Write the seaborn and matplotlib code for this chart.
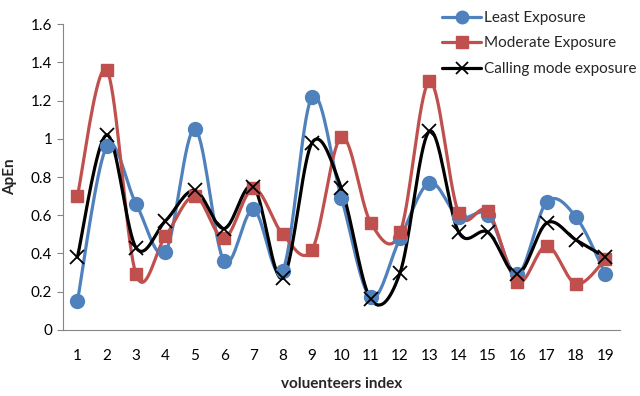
import numpy as np
import pandas as pd
import matplotlib
matplotlib.use('Agg')
import matplotlib.pyplot as plt
import seaborn as sns

# Data
volunteers = list(range(1, 20))
least = [0.15, 0.96, 0.66, 0.41, 1.05, 0.36, 0.63, 0.31, 1.22, 0.69,
         0.17, 0.48, 0.77, 0.59, 0.60, 0.29, 0.67, 0.59, 0.29]
moderate = [0.70, 1.36, 0.29, 0.49, 0.70, 0.48, 0.74, 0.50, 0.42, 1.01,
            0.56, 0.51, 1.30, 0.61, 0.62, 0.25, 0.44, 0.24, 0.37]
calling = [0.38, 1.02, 0.43, 0.57, 0.73, 0.53, 0.75, 0.27, 0.98, 0.74,
           0.16, 0.30, 1.04, 0.51, 0.51, 0.29, 0.56, 0.47, 0.38]

series_names = ['Least Exposure', 'Moderate Exposure', 'Calling mode exposure']
colors = ['#4F81BD', '#C0504D', '#000000']
markers = ['o', 's', 'x']
msizes = [10, 9, 10]

sns.set_style('white')
plt.rcParams['font.family'] = ['Lato', 'DejaVu Sans']


def smooth_curve(x, y, steps=20):
    # Excel-style smoothed line (Catmull-Rom through the points)
    x = np.asarray(x, float)
    y = np.asarray(y, float)
    px = np.concatenate([[x[0]], x, [x[-1]]])
    py = np.concatenate([[y[0]], y, [y[-1]]])
    xs, ys = [], []
    t = np.linspace(0, 1, steps)
    for i in range(1, len(px) - 2):
        p0, p1, p2, p3 = (np.array([px[j], py[j]]) for j in range(i - 1, i + 3))
        m1 = (p2 - p0) / 6.0
        m2 = (p3 - p1) / 6.0
        b = [p1, p1 + m1, p2 - m2, p2]
        pts = ((1 - t) ** 3)[:, None] * b[0] + (3 * (1 - t) ** 2 * t)[:, None] * b[1] \
            + (3 * (1 - t) * t ** 2)[:, None] * b[2] + (t ** 3)[:, None] * b[3]
        xs.extend(pts[:, 0])
        ys.extend(pts[:, 1])
    return np.array(xs), np.array(ys)


df = pd.DataFrame({'Volunteer': volunteers * 3,
                   'ApEn': least + moderate + calling,
                   'Series': np.repeat(series_names, len(volunteers))})

fig, ax = plt.subplots(figsize=(6.4, 3.96), dpi=100)
fig.subplots_adjust(left=0.098, right=0.969, bottom=0.167, top=0.939)

handles = []
for name, c, m, ms in zip(series_names, colors, markers, msizes):
    sub = df[df['Series'] == name]
    sx, sy = smooth_curve(sub['Volunteer'], sub['ApEn'])
    ax.plot(sx, sy, color=c, lw=2.3, zorder=2)
    if m == 'x':
        ax.plot(sub['Volunteer'], sub['ApEn'], ls='', marker=m, ms=ms,
                mew=1.3, color=c, zorder=3)
    else:
        ax.plot(sub['Volunteer'], sub['ApEn'], ls='', marker=m, ms=ms,
                color=c, mec=c, zorder=3)
    h, = ax.plot([], [], color=c, lw=2.3, marker=m, ms=ms - 1,
                 mew=1.3 if m == 'x' else 1, label=name)
    handles.append(h)

ax.set_xlim(0.5, 19.5)
ax.set_ylim(0, 1.6)
ax.set_xticks(volunteers)
ax.set_yticks(np.arange(0, 1.61, 0.2))
ax.set_yticklabels(['0', '0.2', '0.4', '0.6', '0.8', '1', '1.2', '1.4', '1.6'])
ax.tick_params(axis='both', labelsize=11, colors='#404040')
ax.tick_params(axis='y', length=4, width=0.8, color='#868686', left=True)
ax.tick_params(axis='x', length=0, pad=14)
for lbl in ax.get_xticklabels() + ax.get_yticklabels():
    lbl.set_color('black')

sns.despine(ax=ax)
ax.spines['left'].set_color('#868686')
ax.spines['bottom'].set_color('#868686')

ax.set_xlabel('voluenteers index', fontsize=11, fontweight='bold', labelpad=10)
ax.set_ylabel('ApEn', fontsize=11, fontweight='bold', labelpad=10)

fig.legend(handles=handles, loc='upper right', bbox_to_anchor=(1.0, 0.98),
           frameon=False, fontsize=11, handlelength=2.6, handletextpad=0.2,
           labelspacing=0.75, borderaxespad=0.1, borderpad=0.1)

fig.savefig('out.png', dpi=100)
